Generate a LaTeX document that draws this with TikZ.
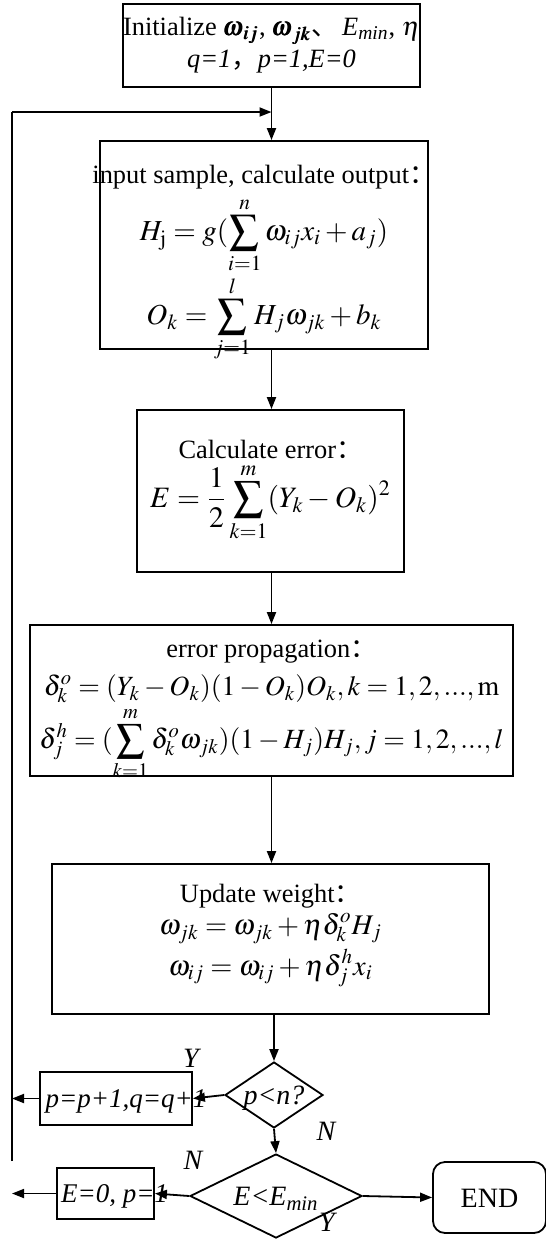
\documentclass[tikz,border=0pt]{standalone}
\usepackage{amsmath}
\usepackage{mathptmx}
\usepackage{fontspec}
\setmainfont{Liberation Serif}
\newfontfamily\cjk{Noto Sans CJK SC}
\usetikzlibrary{shapes.geometric,arrows.meta}

% fixed-size box content: [inner pos] width, height, lines
\newcommand{\fixbox}[4][c]{\parbox[c][#3][#1]{#2}{\centering #4}}
\newcommand{\boxrow}[1]{\makebox[\linewidth]{#1}}
\newcommand{\fitin}[1]{\makebox[0pt]{\raisebox{-0.35em}[0pt][0pt]{#1}}}
\newcommand{\eqline}[2]{{\fontsize{#1}{#1}\selectfont $\displaystyle #2$}}
\tikzset{
  box/.style={draw,line width=0.9pt,inner sep=0pt,font=\fontsize{13.2}{15}\selectfont},
  cond/.style={draw,line width=0.9pt,diamond,inner sep=0pt,font=\fontsize{14}{16}\selectfont\itshape},
  flow/.style={line width=0.9pt,-{Triangle[length=6pt,width=4.5pt]}},
  tag/.style={font=\fontsize{14}{16}\selectfont\itshape,inner sep=0pt}
}

\begin{document}
\begin{tikzpicture}[x=0.5pt,y=-0.5pt]
        \useasboundingbox (0,0) rectangle (546,1239);
        % main column
        \node[box] (init) at (271.5,45.5) {\fixbox{148.5pt}{41.5pt}{%
            \boxrow{Initialize $\pmb{\omega}_{\pmb{ij}}$, $\pmb{\omega}_{\pmb{jk}}${\cjk 、}\,\textit{E\textsubscript{min}}, $\eta$}\\[1pt]
            \boxrow{\textit{q=1}{\cjk ，}\textit{p=1,E=0}}}};
        \node[box] (input) at (264,245) {\fixbox[t]{164pt}{104pt}{%
            \vspace*{12.2pt}
            \boxrow{input sample, calculate output{\cjk ：}}\\[3pt]
            \boxrow{\eqline{14.5}{H_{\mathrm{j}} = g(\sum_{i=1}^{n}\omega_{ij}x_i + a_j)}}\\[0pt]
            \boxrow{\eqline{14.5}{O_k = \sum_{j=1}^{l}H_j\omega_{jk} + b_k}}}};
        \node[box] (err) at (270.5,491) {\fixbox{133.5pt}{81pt}{%
            \boxrow{Calculate error{\cjk ：}}\\[1pt]
            \boxrow{\eqline{14.8}{E = \frac{1}{2}\sum_{k=1}^{m}(Y_k - O_k)^2}}}};
        \node[box] (prop) at (271.5,700.5) {\fixbox[t]{241.5pt}{75.5pt}{%
            \vspace*{7.5pt}
            \boxrow{error propagation{\cjk ：}}\\[4pt]
            \boxrow{\eqline{13.9}{\delta_k^o = (Y_k - O_k)(1 - O_k)O_k, k = 1, 2, ..., \mathrm{m}}}\\[1pt]
            \boxrow{\eqline{13.9}{\delta_j^h = (\sum_{k=1}^{m}\delta_k^o\omega_{jk})(1 - H_j)H_j, j = 1, 2, ..., l}}}};
        \node[box] (upd) at (270.5,939) {\fixbox[t]{218.5pt}{75pt}{%
            \vspace*{10pt}
            \boxrow{Update weight{\cjk ：}}\\[1pt]
            \boxrow{\eqline{14.2}{\omega_{jk} = \omega_{jk} + \eta\delta_k^o H_j}}\\[2pt]
            \boxrow{\eqline{14.2}{\omega_{ij} = \omega_{ij} + \eta\delta_j^h x_i}}}};
        % decisions
        \node[cond,minimum width=49pt,minimum height=33pt] (pn) at (274,1095) {\fitin{p{\normalfont\itshape <}n?}};
        \node[cond,minimum width=86pt,minimum height=42pt] (emin) at (276,1196) {\fitin{E<E\textsubscript{min}}};
        \node[box,font=\fontsize{13.5}{15}\selectfont\itshape,minimum width=76pt,minimum height=26.5pt] (inc) at (116,1098.5) {\fitin{\hspace*{10pt}p=p+1,q=q+1}};
        \node[box,font=\fontsize{13.5}{15}\selectfont\itshape,minimum width=48.5pt,minimum height=25.5pt] (reset) at (105.5,1193.5) {\fitin{\hspace*{9pt}E=0, p=1}};
        \node[box,rounded corners=6pt,font=\fontsize{14}{16}\selectfont,minimum width=56.5pt,minimum height=35.5pt] (stop) at (489.5,1197.5) {\fitin{END}};
        \coordinate (back) at (12,112);
        \coordinate (bot) at (12,1161);
        % connectors
        \draw[flow] (init.south -| back) ++(259.5,0) coordinate (mid) -- (mid |- input.north);
        \draw[flow] (input.south -| mid) -- (mid |- err.north);
        \draw[flow] (err.south -| mid) -- (mid |- prop.north);
        \draw[flow] (prop.south -| mid) -- (mid |- upd.north);
        \draw[flow] (upd.south -| pn.north) -- (pn.north);
        \draw[flow] (pn.south) -- (emin.north);
        \draw[flow] (pn.west) -- (inc.east);
        \draw[flow] (emin.west) -- (reset.east);
        \draw[flow] (emin.east) -- (stop.west);
        \draw[flow] (inc.west) -- (inc.west -| back);
        \draw[flow] (reset.west) -- (reset.west -| back);
        \draw[line width=0.9pt] (bot) -- (back);
        \draw[flow] (back) -- (back -| mid);
        % labels
        \node[tag] (y1) at (191,1058) {Y};
        \node[tag] (n1) at (326,1131) {N};
        \node[tag] (n2) at (193,1160) {N};
        \node[tag] (y2) at (327,1222) {Y};
\end{tikzpicture}
\end{document}
